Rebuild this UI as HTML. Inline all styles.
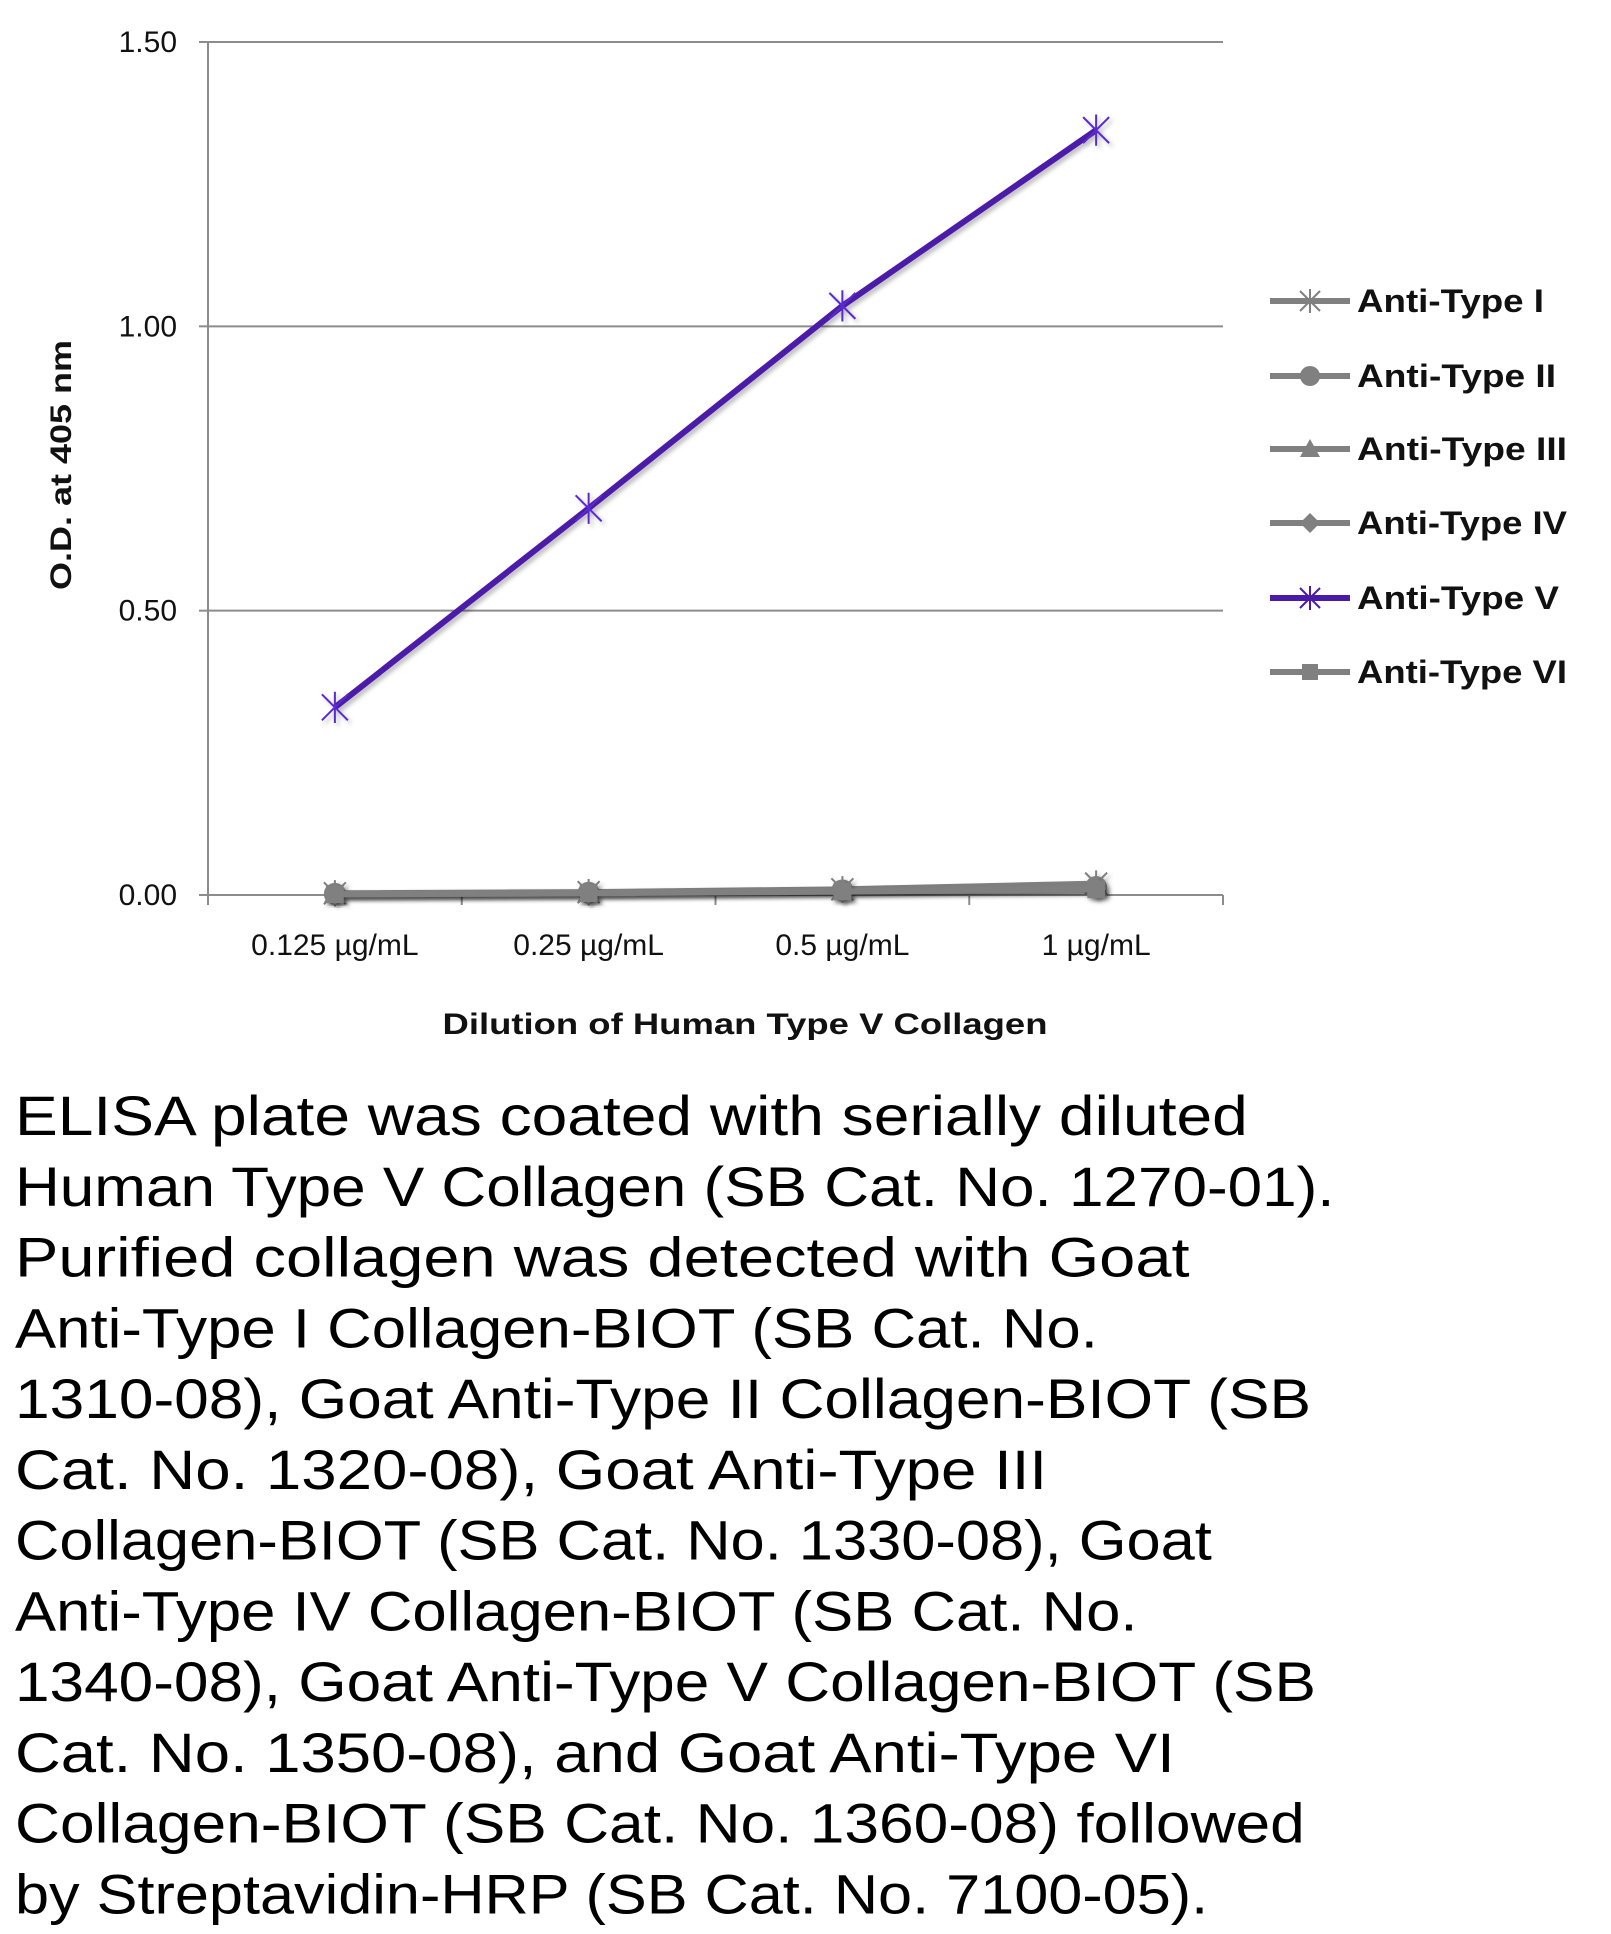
<!DOCTYPE html>
<html><head><meta charset="utf-8"><style>
html,body{margin:0;padding:0;background:#fff;}
svg{display:block;font-family:"Liberation Sans",sans-serif;}
</style></head><body>
<svg id="chart" width="1611" height="1934" viewBox="0 0 1611 1934" xmlns="http://www.w3.org/2000/svg">
<defs><filter id="sh" x="-10%" y="-10%" width="120%" height="120%"><feDropShadow dx="3" dy="3" stdDeviation="2" flood-color="#000" flood-opacity="0.25"/></filter></defs>
<g id="grid"></g><g id="axes"></g><g id="series"></g><g id="legend"></g><g id="caption"></g>
</svg>
<script>
const categories = ["0.125 µg/mL","0.25 µg/mL","0.5 µg/mL","1 µg/mL"];
const yTicks = [0, 0.5, 1.0, 1.5];
const yTickLabels = ["0.00","0.50","1.00","1.50"];
const seriesNames = ["Anti-Type I","Anti-Type II","Anti-Type III","Anti-Type IV","Anti-Type V","Anti-Type VI"];
const typeI = [0.003, 0.005, 0.01, 0.02];
const typeII = [0.002, 0.004, 0.008, 0.014];
const typeIII = [0.002, 0.004, 0.008, 0.014];
const typeIV = [0.002, 0.004, 0.008, 0.012];
const typeV = [0.33, 0.68, 1.036, 1.345];
const typeVI = [0.001, 0.003, 0.006, 0.01];
const seriesValues = [typeI, typeII, typeIII, typeIV, typeV, typeVI];
const markers = ["star","circle","triangle","diamond","star","square"];
const colors = ["#808080","#808080","#808080","#808080","#4b1aa8","#808080"];

const NS="http://www.w3.org/2000/svg";
const L=208,R=1223,T=42,B=895,yMax=1.5;
const band=(R-L)/categories.length;
const x=i=>L+band*(i+0.5);
const y=v=>B-(v/yMax)*(B-T);
function mk(tag,attrs,parent,text){const e=document.createElementNS(NS,tag);for(const k in attrs)e.setAttribute(k,attrs[k]);if(text!==undefined)e.textContent=text;parent.appendChild(e);return e;}
const grid=document.getElementById('grid'),axes=document.getElementById('axes'),ser=document.getElementById('series'),leg=document.getElementById('legend'),cap=document.getElementById('caption');

yTicks.forEach((t,i)=>{
  if(t>0){const g=mk('line',{x1:L,x2:R,y1:y(t),y2:y(t),stroke:'#8c8c8c','stroke-width':2},grid);
  
  }
  const tl=mk('line',{x1:L-9,x2:L,y1:y(t),y2:y(t),stroke:'#8c8c8c','stroke-width':2},axes);
  
  
  const lb=mk('text',{x:177,y:y(t)+10,'text-anchor':'end','font-size':30,fill:'#111'},axes,yTickLabels[i]);
  
  
});
const ya=mk('line',{x1:L,x2:L,y1:T,y2:B,stroke:'#8c8c8c','stroke-width':2},axes);


const xa=mk('line',{x1:L,x2:R,y1:B,y2:B,stroke:'#8c8c8c','stroke-width':2},axes);


for(let i=0;i<=categories.length;i++){
  const tk=mk('line',{x1:L+band*i,x2:L+band*i,y1:B,y2:B+10,stroke:'#8c8c8c','stroke-width':2},axes);
  
  
}
categories.forEach((c,i)=>{
  const t=mk('text',{x:x(i),y:955,'text-anchor':'middle','font-size':30,fill:'#111'},axes,c);
  
  
});
const xt=mk('text',{x:745,y:1034,'text-anchor':'middle','font-size':30,'font-weight':'bold',fill:'#111',textLength:605,lengthAdjust:'spacingAndGlyphs'},axes,'Dilution of Human Type V Collagen');


const yt=mk('text',{x:0,y:0,'text-anchor':'middle','font-size':30,'font-weight':'bold',fill:'#111',transform:'translate(71,465) rotate(-90)',textLength:250,lengthAdjust:'spacingAndGlyphs'},axes,'O.D. at 405 nm');



function marker(type,cx,cy,col,p,s){
  let e;
  if(type==='star'){const d=`M${cx-s} ${cy-s}L${cx+s} ${cy+s}M${cx-s} ${cy+s}L${cx+s} ${cy-s}M${cx} ${cy-s*1.2}L${cx} ${cy+s*1.2}`;e=mk('path',{d,stroke:col,'stroke-width':2,fill:'none'},p);}
  else if(type==='circle')e=mk('circle',{cx,cy,r:s,fill:col},p);
  else if(type==='triangle')e=mk('path',{d:`M${cx} ${cy-s}L${cx+s} ${cy+s*0.8}L${cx-s} ${cy+s*0.8}Z`,fill:col},p);
  else if(type==='diamond')e=mk('path',{d:`M${cx} ${cy-s}L${cx+s} ${cy}L${cx} ${cy+s}L${cx-s} ${cy}Z`,fill:col},p);
  else e=mk('rect',{x:cx-s*0.8,y:cy-s*0.8,width:s*1.6,height:s*1.6,fill:col},p);
  return e;
}
const order=[0,1,2,3,5,4];
order.forEach(si=>{
  const g=mk('g',{filter:'url(#sh)'},ser);
  
  
  const pts=seriesValues[si].map((v,i)=>x(i)+','+y(v)).join(' ');
  mk('polyline',{points:pts,fill:'none',stroke:colors[si],'stroke-width':6,'stroke-linejoin':'round'},g);
  seriesValues[si].forEach((v,i)=>{
    const m=marker(markers[si],x(i),y(v),si===4?'#5a2ad0':colors[si],g,si===4?13:11);
    
    
  });
});
const legY=[301,376,449,523,598,672];
const legW=[187,199,210,210,202,210];
seriesNames.forEach((n,i)=>{
  const g=mk('g',{},leg);
  
  
  mk('line',{x1:1270,x2:1350,y1:legY[i],y2:legY[i],stroke:colors[i],'stroke-width':6},g);
  marker(markers[i],1310,legY[i],colors[i],g,10);
  mk('text',{x:1357,y:legY[i]+11,'font-size':32,'font-weight':'bold',fill:'#111',textLength:legW[i],lengthAdjust:'spacingAndGlyphs'},g,n);
});
const capLines=["ELISA plate was coated with serially diluted","Human Type V Collagen (SB Cat. No. 1270-01).","Purified collagen was detected with Goat","Anti-Type I Collagen-BIOT (SB Cat. No.","1310-08), Goat Anti-Type II Collagen-BIOT (SB","Cat. No. 1320-08), Goat Anti-Type III","Collagen-BIOT (SB Cat. No. 1330-08), Goat","Anti-Type IV Collagen-BIOT (SB Cat. No.","1340-08), Goat Anti-Type V Collagen-BIOT (SB","Cat. No. 1350-08), and Goat Anti-Type VI","Collagen-BIOT (SB Cat. No. 1360-08) followed","by Streptavidin-HRP (SB Cat. No. 7100-05)."];
const capRight=[1007,1077,960,886,1058,845,978,918,1062,948,1053,975];
capLines.forEach((s,i)=>{
  const t=mk('text',{x:15,y:1135+i*70.75,'font-size':56,fill:'#000',textLength:(capRight[i]-12)*1.239,lengthAdjust:'spacingAndGlyphs'},cap,s);
  
  
});
</script>
</body></html>
